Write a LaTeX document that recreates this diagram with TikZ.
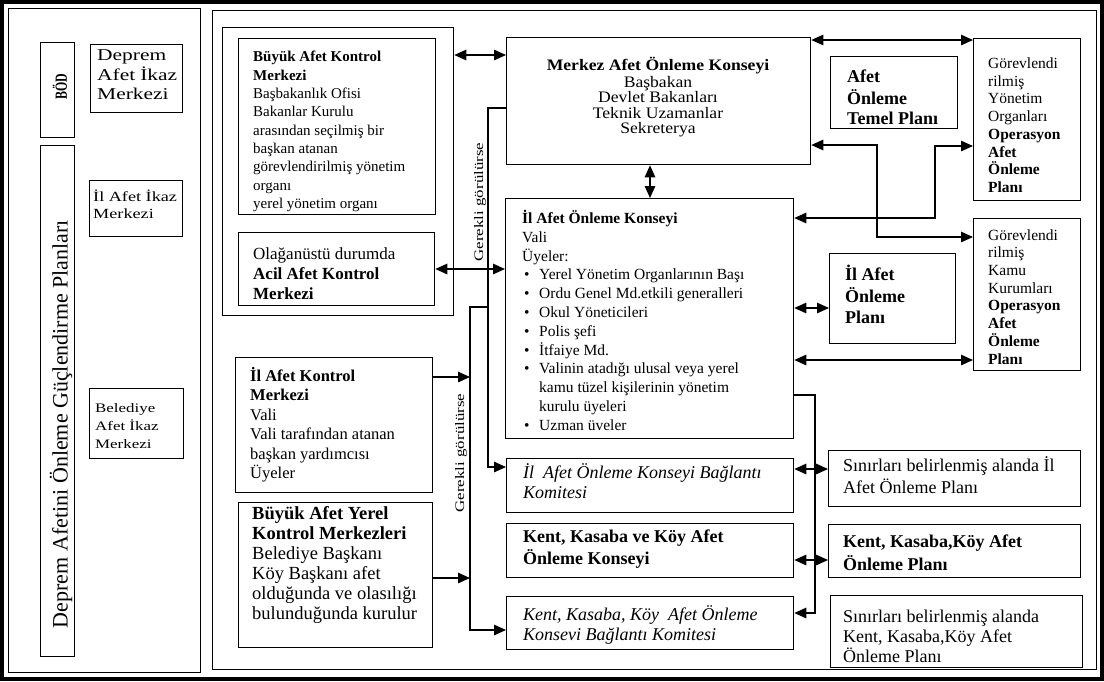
\documentclass[tikz,border=0pt]{standalone}
\usepackage{fontspec}
\setmainfont{Liberation Serif}
\newfontfamily\wideA[FakeStretch=1.1]{Liberation Serif}
\newfontfamily\wideB[FakeStretch=1.3]{Liberation Serif}
\newfontfamily\narrowA[FakeStretch=0.7]{Liberation Serif}
\usetikzlibrary{arrows.meta}
\newcommand\fs[2]{\fontsize{#1}{#2}\selectfont}
\newcommand\bl{\makebox[17pt][l]{\hspace{2pt}\textbullet}}
\newcommand\ind{\hspace*{17pt}}
\begin{document}
\begin{tikzpicture}[x=1pt,y=-1pt,
  box/.style={draw, line width=1.3pt, rectangle, anchor=north west, inner sep=0pt},
  txt/.style={anchor=north west, inner sep=0pt, align=left},
  ln/.style={line width=1.3pt},
  arr/.style={ln, -{Triangle[length=12pt,width=10.5pt]}},
  darr/.style={ln, {Triangle[length=12pt,width=10.5pt]}-{Triangle[length=12pt,width=10.5pt]}},
  vlab/.style={rotate=90, inner sep=0pt, font=\wideB\fs{13}{15}}
]
\useasboundingbox (0,0) rectangle (1104,681);
\draw[line width=4pt] (2,2) rectangle (1102,679);

% panels
\node[box, minimum width=192pt, minimum height=664pt] (leftpanel) at (8,8) {};
\node[box, minimum width=884pt, minimum height=659pt] (rightpanel) at (212,10) {};

% left panel
\node[box, minimum width=34pt, minimum height=95pt] (bod) at (40,42) {};
\node[rotate=90, inner sep=0pt, font=\narrowA\bfseries\fs{17}{20}] (bodt) at (60,87) {BÖD};
\node[box, minimum width=34pt, minimum height=511pt] (dpl) at (40,145) {};
\node[rotate=90, inner sep=0pt, font=\fs{22}{24}] (dplt) at (61,424) {Deprem Afetini Önleme Güçlendirme Planları};
\node[box, minimum width=92pt, minimum height=68pt] (deprem) at (90,44) {};
\node[txt, font=\wideB\fs{16.5}{18.3}, text width=80pt] (deprt) at (97,47.6) {\strut Deprem\\ Afet\hfill İkaz\\ Merkezi};
\node[box, minimum width=93pt, minimum height=56pt] (ilikaz) at (89,180) {};
\node[txt, font=\wideB\fs{14}{17}] (ilikazt) at (93,189.4) {\strut İl Afet İkaz\\ Merkezi};
\node[box, minimum width=94pt, minimum height=70pt] (belediye) at (89,388) {};
\node[txt, font=\wideB\fs{13}{18}] (belt) at (95,400) {\strut Belediye\\ Afet İkaz\\ Merkezi};

% right panel boxes
\node[box, minimum width=231pt, minimum height=288pt] (cont) at (222,27) {};
\node[box, minimum width=197pt, minimum height=176pt] (bakm) at (238,38) {};
\node[txt, font=\fs{15}{18.3}] (bakmt) at (253,48.9) {\strut\textbf{Büyük Afet Kontrol}\\ \textbf{Merkezi}\\ Başbakanlık Ofisi\\ Bakanlar Kurulu\\ arasından seçilmiş bir\\ başkan atanan\\ görevlendirilmiş yönetim\\ organı\\ yerel yönetim organı};
\node[box, minimum width=196pt, minimum height=73pt] (acil) at (238,232) {};
\node[txt, font=\fs{17}{20}] (acilt) at (253,245) {\strut Olağanüstü durumda\\ \textbf{Acil Afet Kontrol}\\ \textbf{Merkezi}};

\node[box, minimum width=304pt, minimum height=127pt] (merkez) at (506,37) {};
\node[anchor=north, inner sep=0pt, align=center, font=\wideA\fs{16}{15.5}] (merkezt) at (658,57) {\strut\textbf{Merkez Afet Önleme Konseyi}\\ Başbakan\\ Devlet Bakanları\\ Teknik Uzamanlar\\ Sekreterya};

\node[box, minimum width=288pt, minimum height=240pt] (ilkonsey) at (505,198) {};
\node[txt, font=\fs{15.5}{18.8}] (ilkonseyt) at (522,210) {\strut\textbf{İl Afet Önleme Konseyi}\\ Vali\\ Üyeler:\\ \bl Yerel Yönetim Organlarının Başı\\ \bl Ordu Genel Md.etkili generalleri\\ \bl Okul Yöneticileri\\ \bl Polis şefi\\ \bl İtfaiye Md.\\ \bl Valinin atadığı ulusal veya yerel\\ \ind kamu tüzel kişilerinin yönetim\\ \ind kurulu üyeleri\\ \bl Uzman üveler};

\node[box, minimum width=287pt, minimum height=54pt] (ilbag) at (506,458) {};
\node[txt, font=\itshape\fs{18}{20}] (ilbagt) at (523,463.6) {\strut İl~ Afet Önleme Konseyi Bağlantı\\ Komitesi};
\node[box, minimum width=287pt, minimum height=54pt] (kentkonsey) at (506,523) {};
\node[txt, font=\bfseries\fs{18}{20}] (kentkonseyt) at (523,528.6) {\strut Kent, Kasaba ve Köy Afet\\ Önleme Konseyi};
\node[box, minimum width=287pt, minimum height=53pt] (kentbag) at (506,596) {};
\node[txt, font=\itshape\fs{18}{20}] (kentbagt) at (523,605.3) {\strut Kent, Kasaba, Köy~ Afet Önleme\\ Konsevi Bağlantı Komitesi};

\node[box, minimum width=197pt, minimum height=135pt] (ilkontrol) at (235,357) {};
\node[txt, font=\fs{16.5}{19.5}] (ilkontrolt) at (250,366.8) {\strut\textbf{İl Afet Kontrol}\\ \textbf{Merkezi}\\ Vali\\ Vali tarafından atanan\\ başkan yardımcısı\\ Üyeler};
\node[box, minimum width=194pt, minimum height=145pt] (yerel) at (238,502) {};
\node[txt, font=\fs{18.5}{20}] (yerelt) at (252,505.4) {\strut\textbf{Büyük Afet Yerel}\\ \textbf{Kontrol Merkezleri}\\ Belediye Başkanı\\ Köy Başkanı afet\\ olduğunda ve olasılığı\\ bulunduğunda kurulur};

\node[box, minimum width=127pt, minimum height=72pt] (temel) at (830,56) {};
\node[txt, font=\bfseries\fs{18}{20}] (temelt) at (847,68.6) {\strut Afet\\ Önleme\\ Temel Planı};
\node[box, minimum width=107pt, minimum height=162pt] (yonetim) at (973,38) {};
\node[txt, font=\fs{15.5}{17.7}] (yonetimt) at (988,56) {\strut Görevlendi\\ rilmiş\\ Yönetim\\ Organları\\ \textbf{Operasyon}\\ \textbf{Afet}\\ \textbf{Önleme}\\ \textbf{Planı}};
\node[box, minimum width=107pt, minimum height=152pt] (kamu) at (973,218) {};
\node[txt, font=\fs{15.5}{17.7}] (kamut) at (988,227.6) {\strut Görevlendi\\ rilmiş\\ Kamu\\ Kurumları\\ \textbf{Operasyon}\\ \textbf{Afet}\\ \textbf{Önleme}\\ \textbf{Planı}};
\node[box, minimum width=126pt, minimum height=90pt] (ilplan) at (829,253) {};
\node[txt, font=\bfseries\fs{18}{21}] (ilplant) at (845,264.5) {\strut İl Afet\\ Önleme\\ Planı};

\node[box, minimum width=252pt, minimum height=56pt] (sinil) at (828,450) {};
\node[txt, font=\fs{18}{22}] (sinilt) at (843,455.6) {\strut Sınırları belirlenmiş alanda İl\\ Afet Önleme Planı};
\node[box, minimum width=252pt, minimum height=53pt] (kentplan) at (828,524) {};
\node[txt, font=\bfseries\fs{18}{21}] (kentplant) at (843,532.9) {\strut Kent, Kasaba,Köy Afet\\ Önleme Planı};
\node[box, minimum width=252pt, minimum height=72pt] (sinkent) at (830,595) {};
\node[txt, font=\fs{18}{20}] (sinkentt) at (843,608.6) {\strut Sınırları belirlenmiş alanda\\ Kent, Kasaba,Köy Afet\\ Önleme Planı};

% labels
\node[vlab] (ger1) at (480,202) {Gerekli görülürse};
\node[vlab] (ger2) at (461,453) {Gerekli görülürse};

% connectors
\draw[darr] (cont.east |- 0,55) -- (merkez.west |- 0,55);
\draw[darr] (merkez.south -| 650,0) -- (ilkonsey.north -| 650,0);
\draw[darr] (acil.east |- 0,269) -- (ilkonsey.west |- 0,269);
\draw[arr] (merkez.west |- 0,108) -- (488,108) -- (488,467) -- (ilbag.west |- 0,467);
\coordinate (jA) at (488,307);
\draw[arr] (jA) -- (470,307) -- (470,630) -- (kentbag.west |- 0,630);
\coordinate (jB) at (470,377);
\coordinate (jC) at (470,578);
\draw[arr] (ilkontrol.east |- jB) -- (jB);
\draw[arr] (yerel.east |- jC) -- (jC);
\draw[darr] (merkez.east |- 0,40) -- (yonetim.west |- 0,40);
\draw[darr] (merkez.east |- 0,145) -- (877,145) -- (877,237) -- (kamu.west |- 0,237);
\draw[darr] (ilkonsey.east |- 0,218) -- (935,218) -- (935,146) -- (yonetim.west |- 0,146);
\draw[darr] (ilkonsey.east |- 0,308) -- (ilplan.west |- 0,308);
\draw[darr] (ilkonsey.east |- 0,360) -- (kamu.west |- 0,360);
\draw[arr] (ilkonsey.east |- 0,395) -- (815,395) -- (815,613) -- (kentbag.east |- 0,613);
\draw[darr] (ilbag.east |- 0,469) -- (sinil.west |- 0,469);
\draw[darr] (kentkonsey.east |- 0,560) -- (kentplan.west |- 0,560);
\end{tikzpicture}
\end{document}
